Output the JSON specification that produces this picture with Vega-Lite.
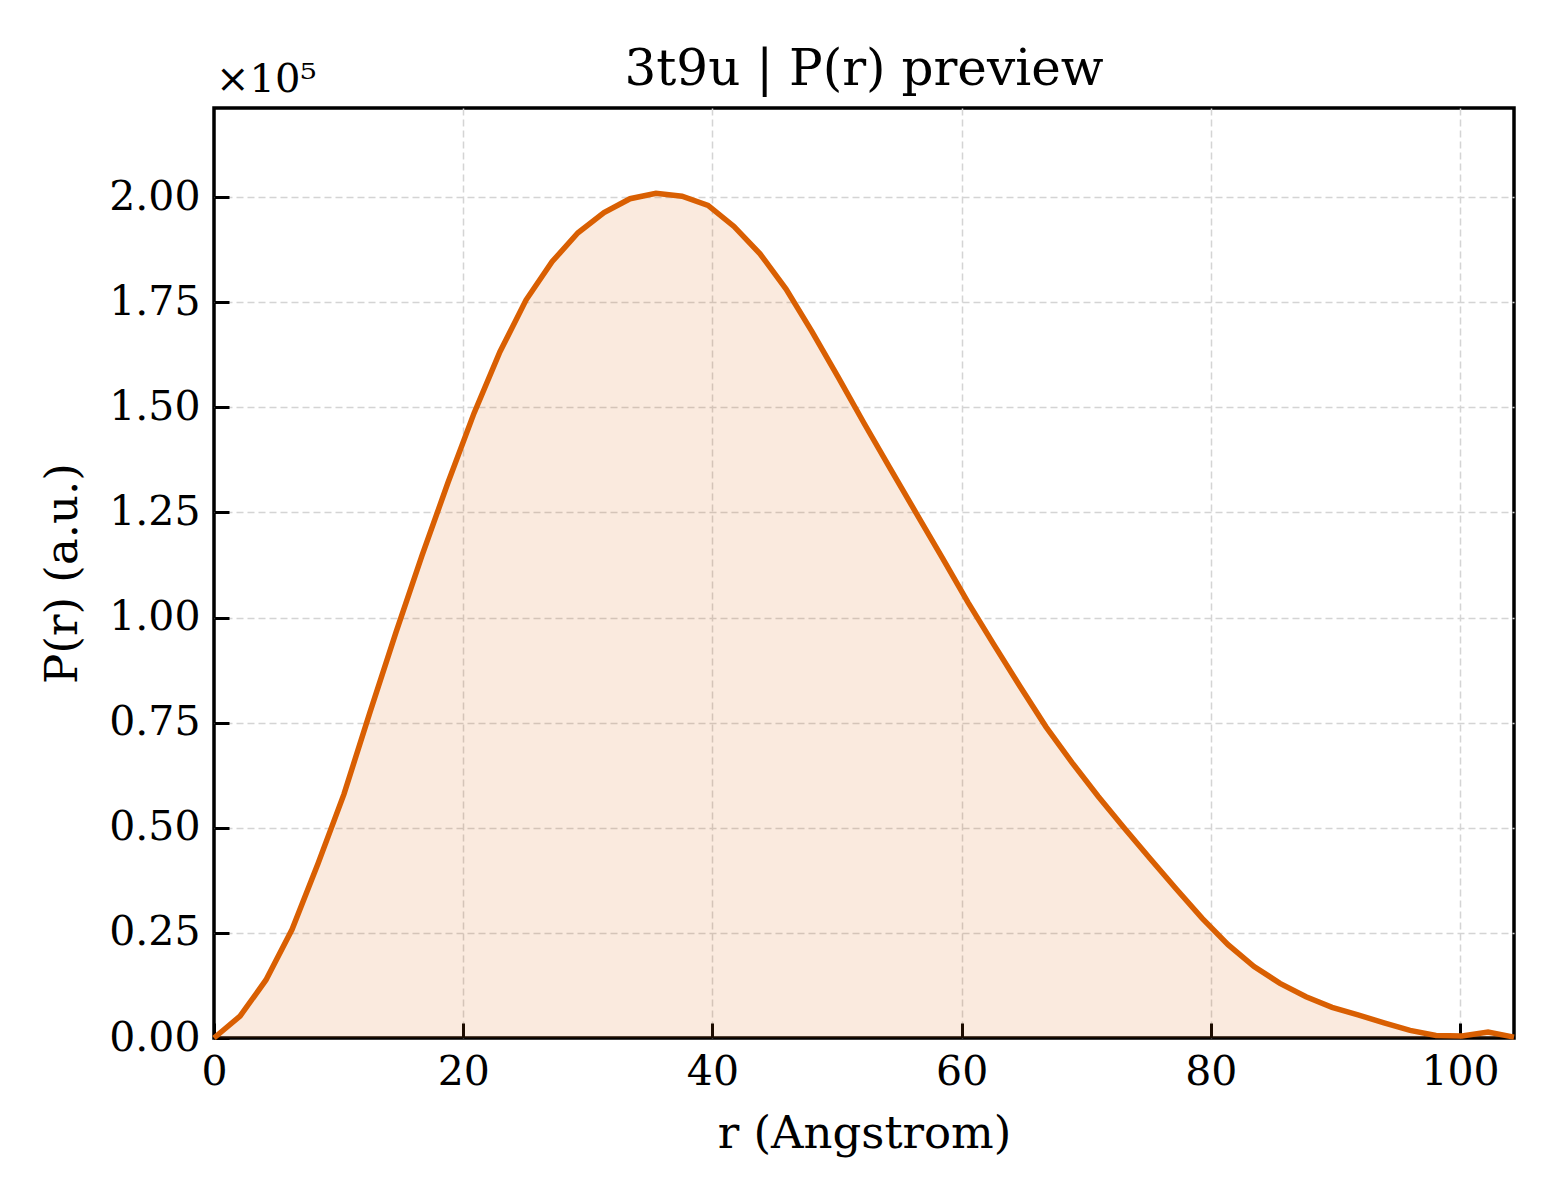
{
  "$schema": "https://vega.github.io/schema/vega-lite/v6.json",
  "autosize": {"type": "none"},
  "padding": {"left": 214, "top": 108, "right": 46, "bottom": 162},
  "width": 1300,
  "height": 930,
  "background": "white",
  "title": {
    "text": "3t9u | P(r) preview",
    "font": "DejaVu Serif",
    "fontSize": 50,
    "fontWeight": "normal",
    "color": "black",
    "offset": -35
  },
  "config": {
    "view": {"stroke": "black", "strokeWidth": 3.5},
    "axis": {
      "domain": false,
      "labelFont": "DejaVu Serif",
      "labelFontSize": 41,
      "labelColor": "black",
      "titleFont": "DejaVu Serif",
      "titleFontSize": 45,
      "titleFontWeight": "normal",
      "titleColor": "black",
      "tickColor": "black",
      "tickWidth": 3,
      "tickSize": -15,
      "gridColor": "#d4d4d4",
      "gridDash": [7, 4],
      "gridWidth": 1.5,
      "gridOpacity": {"condition": {"test": "datum.value === 0", "value": 0}, "value": 1}
    }
  },
  "data": {
    "values": [
      {"r": 0.0, "P": 0},
      {"r": 2.09, "P": 5200},
      {"r": 4.17, "P": 13800},
      {"r": 6.26, "P": 25800},
      {"r": 8.35, "P": 41500},
      {"r": 10.43, "P": 58000},
      {"r": 12.52, "P": 77500},
      {"r": 14.61, "P": 96500},
      {"r": 16.69, "P": 114700},
      {"r": 18.78, "P": 132100},
      {"r": 20.87, "P": 148600},
      {"r": 22.95, "P": 163200},
      {"r": 25.04, "P": 175500},
      {"r": 27.13, "P": 184600},
      {"r": 29.21, "P": 191500},
      {"r": 31.3, "P": 196300},
      {"r": 33.39, "P": 199600},
      {"r": 35.47, "P": 200900},
      {"r": 37.56, "P": 200200},
      {"r": 39.65, "P": 198000},
      {"r": 41.73, "P": 193000},
      {"r": 43.82, "P": 186500},
      {"r": 45.91, "P": 178100},
      {"r": 47.99, "P": 168000},
      {"r": 50.08, "P": 157200},
      {"r": 52.17, "P": 146200},
      {"r": 54.25, "P": 135500},
      {"r": 56.34, "P": 124900},
      {"r": 58.43, "P": 114300},
      {"r": 60.51, "P": 103600},
      {"r": 62.6, "P": 93500},
      {"r": 64.69, "P": 83600},
      {"r": 66.77, "P": 74000},
      {"r": 68.86, "P": 65500},
      {"r": 70.95, "P": 57500},
      {"r": 73.03, "P": 50000},
      {"r": 75.12, "P": 42700},
      {"r": 77.21, "P": 35500},
      {"r": 79.29, "P": 28500},
      {"r": 81.38, "P": 22200},
      {"r": 83.47, "P": 17000},
      {"r": 85.55, "P": 13000},
      {"r": 87.64, "P": 9800},
      {"r": 89.73, "P": 7300},
      {"r": 91.81, "P": 5500},
      {"r": 93.9, "P": 3600},
      {"r": 95.99, "P": 1800},
      {"r": 98.07, "P": 600},
      {"r": 100.16, "P": 500},
      {"r": 102.25, "P": 1400},
      {"r": 104.33, "P": 200}
    ]
  },
  "layer": [
    {
      "mark": {"type": "area", "color": "#d95f02", "opacity": 0.13},
      "encoding": {
        "x": {
          "field": "r",
          "type": "quantitative",
          "title": "r (Angstrom)",
          "scale": {"domain": [0, 104.33], "nice": false, "zero": false},
          "axis": {"values": [0, 20, 40, 60, 80, 100], "labelPadding": 29, "titlePadding": 19, "labelFlush": false}
        },
        "y": {
          "field": "P",
          "type": "quantitative",
          "title": "P(r) (a.u.)",
          "scale": {"domain": [0, 221170], "nice": false},
          "axis": {
            "values": [0, 25000, 50000, 75000, 100000, 125000, 150000, 175000, 200000],
            "labelExpr": "format(datum.value / 100000, '.2f')",
            "labelPadding": 29,
            "titlePadding": 23,
            "labelFlush": false
          }
        }
      }
    },
    {
      "mark": {"type": "line", "color": "#d95f02", "strokeWidth": 5.5},
      "encoding": {
        "x": {"field": "r", "type": "quantitative"},
        "y": {"field": "P", "type": "quantitative"}
      }
    },
    {
      "data": {"values": [{"r": 0, "P": 221170, "label": "×10⁵"}]},
      "mark": {
        "type": "text",
        "font": "DejaVu Serif",
        "fontSize": 40,
        "align": "left",
        "baseline": "bottom",
        "dx": 2,
        "dy": -8,
        "color": "black",
        "clip": false
      },
      "encoding": {
        "x": {"field": "r", "type": "quantitative"},
        "y": {"field": "P", "type": "quantitative"},
        "text": {"field": "label", "type": "nominal"}
      }
    }
  ]
}
